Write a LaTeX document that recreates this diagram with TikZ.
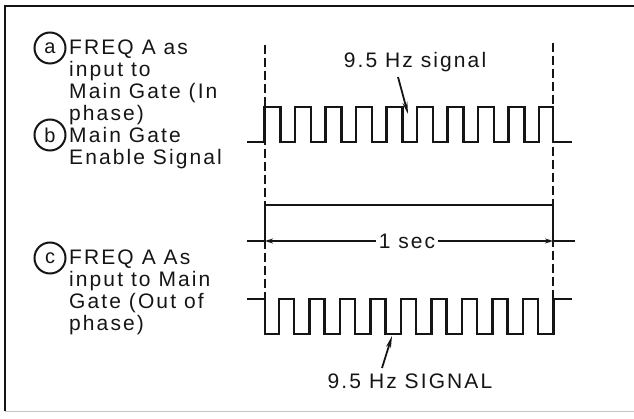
\documentclass[tikz,border=0pt]{standalone}
\usepackage{fontspec}
\setmainfont{Liberation Sans}[LetterSpace=10]
\usetikzlibrary{arrows.meta}
\definecolor{cInk}{HTML}{151515}
\definecolor{cScan}{HTML}{C4C4C4}
\tikzset{
  wave/.style={draw=cInk,line width=2.2pt,line join=miter},
  gate/.style={draw=cInk,line width=1.8pt,dash pattern=on 9pt off 4pt},
  frame/.style={draw=cInk,line width=2.2pt},
  tag/.style={circle,draw=cInk,line width=2pt,minimum size=31pt,inner sep=0pt,text=cInk,font=\fontsize{20}{20}\selectfont},
  desc/.style={anchor=north west,align=left,inner sep=0pt,text=cInk,font=\fontsize{21}{22}\selectfont},
  lbl/.style={text=cInk,inner sep=3pt,font=\fontsize{21}{22}\selectfont},
  ptr/.style={-{Stealth[length=12pt,width=5pt]},line width=1.8pt,draw=cInk},
  span/.style={-{Stealth[length=8pt,width=5pt]},line width=1.6pt,draw=cInk},
}

\begin{document}
\begin{tikzpicture}[x=1pt,y=-1pt]
  \useasboundingbox (0,0) rectangle (634,419);
  \draw[frame] (634,6) -- (5,6) -- (5,411);
  \draw[cScan,line width=0.8pt] (5,411) -- (634,411);

  % captions
  \node[tag] (tA) at (50,48) {a};
  \node[desc] (dA) at (69,40) {FREQ A as\\input to\\Main Gate (In\\phase)};
  \node[tag] (tB) at (50,135) {b};
  \node[desc] (dB) at (69,127) {Main Gate\\Enable Signal};
  \node[tag] (tC) at (50,258) {c};
  \node[desc] (dC) at (69,250) {FREQ A As\\input to Main\\Gate (Out of\\phase)};

  % 1 sec gate window
  \draw[gate] (265,45) -- (265,298);
  \draw[gate] (553,43) -- (553,298);

  % (a) in phase
  \draw[wave] (247,142) -- (264.5,142)
    \foreach \k in {0,...,8}{ -- ++(0,-35) -- ++(16,0) -- ++(0,35) -- ++(14.5,0)}
    -- ++(0,-35) -- (553,107) -- (553,142) -- (572,142);
  \node[lbl] (hzA) at (415,62) {9.5 Hz signal};
  \coordinate (tailA) at (398,77);
  \coordinate (tipA) at (408,114);
  \draw[ptr] (tailA) -- (tipA);

  % (b) enable
  \draw[wave] (247,241) -- (265,241) -- (265,205) -- (553,205) -- (553,241) -- (575,241);
  \node[lbl] (sec) at (407,241) {1 sec};
  \coordinate (gL) at (265,241);
  \coordinate (gR) at (553,241);
  \draw[span] (sec) -- (gL);
  \draw[span] (sec) -- (gR);

  % (c) out of phase
  \draw[wave] (247,299) -- (265,299) -- (265,334) -- (279,334)
    \foreach \k in {0,...,8}{ -- ++(0,-35) -- ++(15,0) -- ++(0,35) -- ++(15.5,0)}
    -- ++(0,-35) -- (572,299);
  \node[lbl] (hzC) at (410,381) {9.5 Hz SIGNAL};
  \coordinate (tailC) at (382,368);
  \coordinate (tipC) at (392,336);
  \draw[ptr] (tailC) -- (tipC);
\end{tikzpicture}
\end{document}
